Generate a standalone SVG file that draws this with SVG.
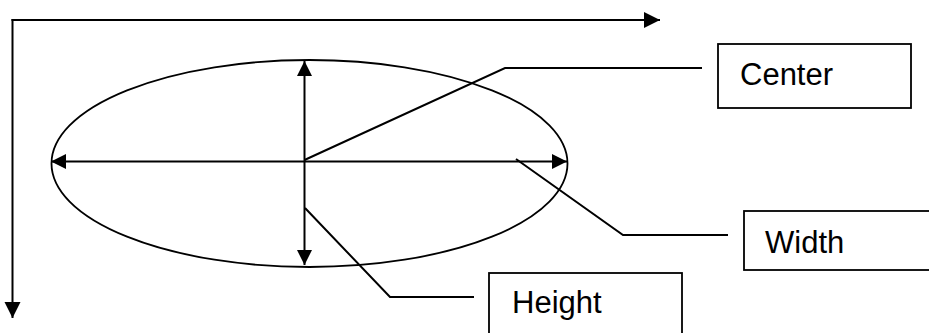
<svg xmlns="http://www.w3.org/2000/svg" width="929" height="333" viewBox="0 0 929 333">
<style>
.ln{fill:none;stroke:#000;stroke-width:2}
.el{fill:none;stroke:#000;stroke-width:1.8}
.box{fill:#fff;stroke:#000;stroke-width:1.8}
.lbl{font-family:"Liberation Sans",Arial,sans-serif;font-size:31px;fill:#000}
</style>
<defs>
<marker id="ah" markerUnits="userSpaceOnUse" markerWidth="16" markerHeight="16" refX="15" refY="7.5" orient="auto-start-reverse" viewBox="0 0 16 16">
<path d="M0,0 L15,7.5 L0,15 z" fill="#000"/>
</marker>
<marker id="axh" markerUnits="userSpaceOnUse" markerWidth="18" markerHeight="18" refX="16" refY="8" orient="auto" viewBox="0 0 18 18">
<path d="M0,0 L16,8 L0,16 z" fill="#000"/>
</marker>
</defs>
<g id="axes">
<line class="ln" x1="11.5" y1="20" x2="660" y2="20" marker-end="url(#axh)"/>
<line class="ln" x1="12.5" y1="19" x2="12.5" y2="318" marker-end="url(#axh)"/>
</g>
<g id="ellipse">
<ellipse class="el" cx="309.5" cy="163.5" rx="258" ry="103.5"/>
</g>
<g id="connectors">
<line class="ln" x1="51" y1="161.5" x2="567" y2="161.5" marker-start="url(#ah)" marker-end="url(#ah)"/>
<line class="ln" x1="304.5" y1="61" x2="304.5" y2="265" marker-start="url(#ah)" marker-end="url(#ah)"/>
<polyline class="ln" points="304.5,160 505,68 702,68"/>
<polyline class="ln" points="516,159 623,235 728,235"/>
<polyline class="ln" points="305,208 390,297 474,297"/>
</g>
<g id="center">
<rect class="box" x="718" y="44" width="193" height="64"/>
<text class="lbl" x="740" y="85">Center</text>
</g>
<g id="width">
<rect class="box" x="744" y="211" width="200" height="59"/>
<text class="lbl" x="765" y="253">Width</text>
</g>
<g id="height">
<rect class="box" x="489" y="273" width="193" height="70"/>
<text class="lbl" x="512" y="313">Height</text>
</g>
</svg>
